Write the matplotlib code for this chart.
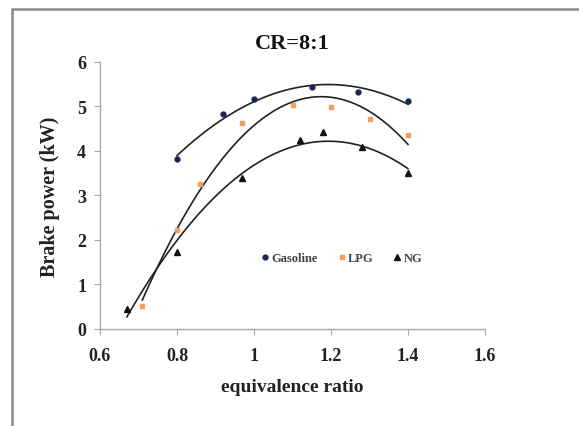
import numpy as np
import matplotlib
matplotlib.use("Agg")
import matplotlib.pyplot as plt
from matplotlib.patches import Rectangle

# data (equivalence ratio, brake power kW)
gas_x = [0.80, 0.92, 1.00, 1.15, 1.27, 1.40]
gas_y = [3.82, 4.82, 5.16, 5.44, 5.32, 5.12]
lpg_x = [0.71, 0.80, 0.86, 0.97, 1.10, 1.20, 1.30, 1.40]
lpg_y = [0.52, 2.22, 3.25, 4.62, 5.03, 4.98, 4.72, 4.36]
ng_x = [0.67, 0.80, 0.97, 1.12, 1.18, 1.28, 1.40]
ng_y = [0.46, 1.72, 3.40, 4.24, 4.42, 4.10, 3.50]

xticks = [0.6, 0.8, 1.0, 1.2, 1.4, 1.6]
xticklabels = ["0.6", "0.8", "1", "1.2", "1.4", "1.6"]
yticks = [0, 1, 2, 3, 4, 5, 6]

plt.rcParams["font.family"] = ["Liberation Serif", "DejaVu Serif"]
plt.rcParams["font.weight"] = "bold"

fig = plt.figure(figsize=(5.79, 4.27), dpi=100)
# grey frame around the chart area, running off the right and bottom edges
fig.patches.append(Rectangle((12 / 579, -0.1), 1.2, 1.1 - 10 / 427,
                             transform=fig.transFigure, fill=False,
                             edgecolor="#8a8a8a", linewidth=1.8))
ax = fig.add_axes([0.1727, 0.2272, 0.8377 - 0.1727, 0.8525 - 0.2272])


def trend(ax, x, y):
    # excel-style 2nd order polynomial trendline
    c = np.polyfit(x, y, 2)
    xs = np.linspace(min(x), max(x), 100)
    ax.plot(xs, np.polyval(c, xs), color="#222222", lw=1.2, zorder=2)


trend(ax, gas_x, gas_y)
trend(ax, lpg_x, lpg_y)
trend(ax, ng_x, ng_y)
ax.plot(gas_x, gas_y, "o", ms=3.5, color="#1c2450", ls="none", label="Gasoline", zorder=3)
ax.plot(lpg_x, lpg_y, "s", ms=3.5, color="#f0a060", ls="none", label="LPG", zorder=3)
ax.plot(ng_x, ng_y, "^", ms=4.5, color="#111111", ls="none", label="NG", zorder=3)

ax.set_xlim(0.6, 1.6)
ax.set_ylim(0, 6)
ax.set_xticks(xticks)
ax.set_xticklabels(xticklabels)
ax.set_yticks(yticks)
for s in ("top", "right"):
    ax.spines[s].set_visible(False)
for s in ("left", "bottom"):
    ax.spines[s].set_color("#a8a8a8")
    ax.spines[s].set_linewidth(1.0)
ax.tick_params(direction="out", length=4, color="#a8a8a8", labelsize=13)
ax.tick_params(axis="x", pad=9)
ax.tick_params(axis="y", pad=6)
for t in ax.get_xticklabels() + ax.get_yticklabels():
    t.set_fontweight("bold")
    t.set_color("#222222")

ax.set_title("CR=8:1", fontsize=16, fontweight="bold", pad=10, color="#111111")
ax.set_xlabel("equivalence ratio", fontsize=14, fontweight="bold", labelpad=10, color="#222222")
ax.set_ylabel("Brake power (kW)", fontsize=14.5, fontweight="bold", labelpad=12, color="#222222")

ax.legend(loc="center left", bbox_to_anchor=(0.39, 0.265), ncol=3, frameon=False,
          handlelength=0.6, handletextpad=0.2, columnspacing=1.6,
          prop={"size": 9, "weight": "bold"}, labelcolor="#444444")

fig.savefig("out.png", dpi=100)
